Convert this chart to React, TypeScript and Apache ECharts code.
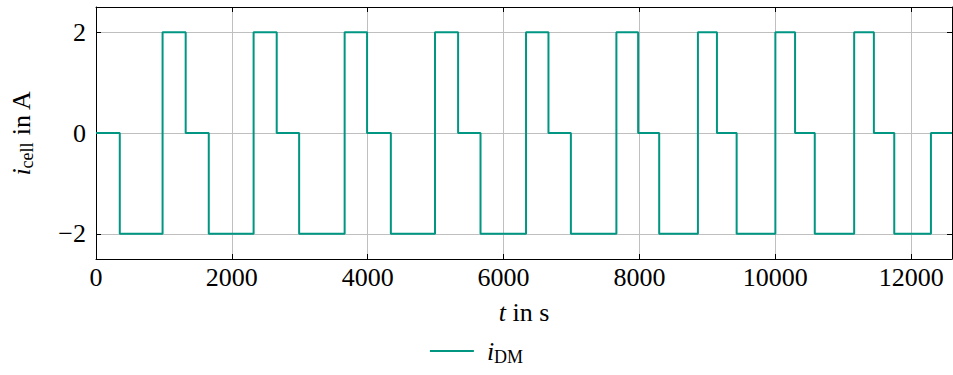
import React, { useEffect, useRef } from "react";
import * as echarts from "echarts";

// Switching instants of the cell current (s) and the level held from each instant on (A)
const switchTimes = [
  0, 350, 980, 1320, 1660, 2320, 2660, 2990, 3660, 3990, 4340, 4990, 5330, 5660,
  6330, 6660, 6990, 7660, 7980, 8290, 8860, 9140, 9430, 10000, 10290, 10580,
  11160, 11450, 11750, 12290, 12600,
];
const currentLevels = [
  0, -2, 2, 0, -2, 2, 0, -2, 2, 0, -2, 2, 0, -2, 2, 0, -2, 2, 0, -2, 2, 0, -2, 2,
  0, -2, 2, 0, -2, 0, 0,
];

const xTicks = { min: 0, max: 12600, interval: 2000 };
const yRange = { min: -2.5, max: 2.5 };

const seriesName = "i_DM";
const lineColor = "#009682";
const serif = "'Liberation Serif', 'DejaVu Serif', serif";

const fmtNum = (v: number) => (v < 0 ? "\u2212" + Math.abs(v) : String(v));

export default function App() {
  const ref = useRef<HTMLDivElement>(null);

  useEffect(() => {
    if (!ref.current) return;
    const chart = echarts.init(ref.current, null, { renderer: "svg" });
    const data = switchTimes.map((t, i) => [t, currentLevels[i]]);

    const tickStyle = { inside: true, length: 5, lineStyle: { color: "#000", width: 1 } };
    const axisLine = { show: true, onZero: false, lineStyle: { color: "#000", width: 1 } };
    const gridLine = { show: true, lineStyle: { color: "#bfbfbf", width: 1 } };
    const richMath = {
      i: { fontStyle: "italic", fontSize: 26, fontFamily: serif, color: "#000", lineHeight: 30 },
      sub: {
        fontSize: 18,
        fontFamily: serif,
        color: "#000",
        verticalAlign: "bottom",
        lineHeight: 30,
        padding: [10, 0, 0, 0],
      },
    };

    chart.setOption({
      animation: false,
      textStyle: { fontFamily: serif },
      grid: { left: 94, top: 7, width: 858, height: 252, containLabel: false },
      xAxis: [
        {
          type: "value",
          position: "bottom",
          min: xTicks.min,
          max: xTicks.max,
          interval: xTicks.interval,
          axisLine,
          axisTick: tickStyle,
          splitLine: gridLine,
          axisLabel: {
            showMaxLabel: false,
            color: "#000",
            fontSize: 26,
            fontFamily: serif,
            margin: 5,
            formatter: fmtNum,
          },
          name: "{i|t} in s",
          nameLocation: "middle",
          nameGap: 38,
          nameTextStyle: {
            color: "#000",
            fontSize: 26,
            fontFamily: serif,
            rich: { i: richMath.i },
          },
        },
        {
          type: "value",
          position: "top",
          min: xTicks.min,
          max: xTicks.max,
          interval: xTicks.interval,
          axisLine,
          axisTick: tickStyle,
          splitLine: { show: false },
          axisLabel: { show: false },
        },
      ],
      yAxis: [
        {
          type: "value",
          position: "left",
          min: yRange.min,
          max: yRange.max,
          splitNumber: 3,
          axisLine,
          axisTick: tickStyle,
          splitLine: gridLine,
          axisLabel: {
            showMinLabel: false,
            showMaxLabel: false,
            color: "#000",
            fontSize: 26,
            fontFamily: serif,
            margin: 10,
            formatter: fmtNum,
          },
          name: "{i|i}{sub|cell} in A",
          nameLocation: "middle",
          nameRotate: 90,
          nameGap: 60,
          nameTextStyle: {
            color: "#000",
            fontSize: 26,
            fontFamily: serif,
            rich: richMath,
          },
        },
        {
          type: "value",
          position: "right",
          min: yRange.min,
          max: yRange.max,
          splitNumber: 3,
          axisLine,
          axisTick: tickStyle,
          splitLine: { show: false },
          axisLabel: { show: false },
        },
      ],
      legend: {
        bottom: 4,
        left: "center",
        icon: "rect",
        itemWidth: 44,
        itemHeight: 2,
        itemGap: 10,
        data: [seriesName],
        formatter: () => "{i|i}{sub|DM}",
        textStyle: {
          color: "#000",
          fontFamily: serif,
          fontSize: 26,
          rich: {
            i: { ...richMath.i, padding: [0, 0, 0, 8] },
            sub: richMath.sub,
          },
        },
      },
      series: [
        {
          name: seriesName,
          type: "line",
          step: "end",
          xAxisIndex: 0,
          yAxisIndex: 0,
          data,
          symbol: "none",
          lineStyle: { color: lineColor, width: 2 },
          itemStyle: { color: lineColor },
        },
      ],
    });

    return () => chart.dispose();
  }, []);

  return (
    <div
      ref={ref}
      style={{ position: "fixed", left: 0, top: 0, width: 953, height: 375, background: "#fff" }}
    />
  );
}
